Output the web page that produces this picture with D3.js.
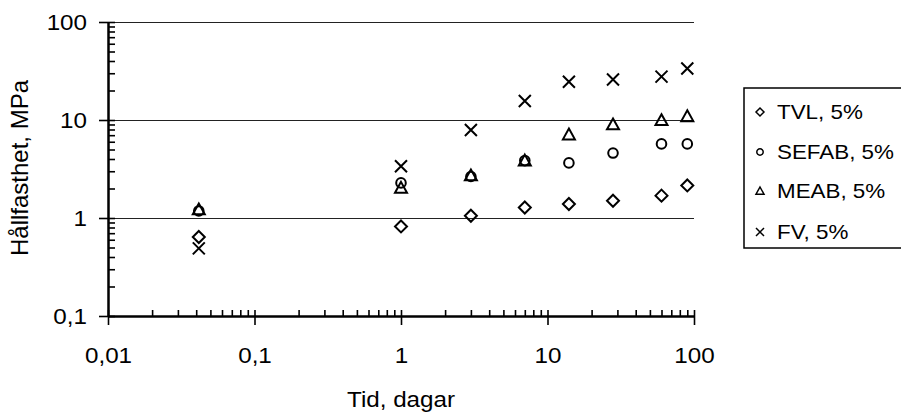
<!DOCTYPE html>
<html><head><meta charset="utf-8">
<script src="https://cdn.jsdelivr.net/npm/d3@7"></script>
<style>
body{margin:0;background:#fff}
svg{display:block}
text{font-family:Arial,"Liberation Sans",sans-serif;fill:#000}
</style></head>
<body><svg id="c" width="901" height="412"></svg>
<script>
const days = [1/24, 1, 3, 7, 14, 28, 60, 90];
const seriesNames = ["TVL, 5%", "SEFAB, 5%", "MEAB, 5%", "FV, 5%"];
const tvl   = [0.64, 0.82, 1.055, 1.28, 1.39, 1.50, 1.69, 2.15];
const sefab = [1.18, 2.28, 2.65, 3.85, 3.65, 4.6, 5.7, 5.7];
const meab  = [1.22, 2.03, 2.71, 3.85, 7.1, 9.0, 9.95, 10.9];
const fv    = [0.49, 3.37, 7.9, 15.6, 24.6, 25.9, 27.7, 33.6];
const xTicks = [0.01, 0.1, 1, 10, 100];
const xTickLabels = ["0,01", "0,1", "1", "10", "100"];
const yTicks = [0.1, 1, 10, 100];
const yTickLabels = ["0,1", "1", "10", "100"];
const xTitle = "Tid, dagar";
const yTitle = "Hållfasthet, MPa";

const svg = d3.select("#c");
const L = 108, R = 694, T = 22, B = 316;
const x = d3.scaleLog().domain([0.01, 100]).range([L, R]);
const y = d3.scaleLog().domain([0.1, 100]).range([B, T]);
const SX = 1.1; // horizontal text stretch

function minors(lo, hi) {
  const out = [];
  for (let e = Math.log10(lo); e < Math.log10(hi); e++)
    for (let m = 2; m <= 9; m++) out.push(m * Math.pow(10, e));
  return out;
}

// gridlines
svg.append("g").selectAll("line").data(yTicks.filter(v => v > 0.1)).join("line")
  .attr("x1", L).attr("x2", R)
  .attr("y1", d => Math.round(y(d)) + 0.5).attr("y2", d => Math.round(y(d)) + 0.5)
  .attr("stroke", "#222").attr("stroke-width", 1.2);

// x axis: inner ticks (all)
const gxIn = svg.append("g").attr("transform", `translate(0,${B})`)
  .call(d3.axisBottom(x).tickValues(xTicks.concat(minors(0.01, 100))).tickSize(-6).tickSizeOuter(0).tickFormat(""));
// x axis: outer major ticks + labels
const gx = svg.append("g").attr("transform", `translate(0,${B})`)
  .call(d3.axisBottom(x).tickValues(xTicks).tickSize(9).tickSizeOuter(0).tickPadding(22)
    .tickFormat((d, i) => xTickLabels[i]));

// y axis
const gyIn = svg.append("g").attr("transform", `translate(${L},0)`)
  .call(d3.axisLeft(y).tickValues(yTicks.concat(minors(0.1, 100))).tickSize(-7).tickSizeOuter(0).tickFormat(""));
const gy = svg.append("g").attr("transform", `translate(${L},0)`)
  .call(d3.axisLeft(y).tickValues(yTicks).tickSize(9).tickSizeOuter(0).tickPadding(12)
    .tickFormat((d, i) => yTickLabels[i]));

[gxIn, gx, gyIn, gy].forEach(g => {
  g.select(".domain").attr("stroke", "#000").attr("stroke-width", 2);
  g.selectAll(".tick line").attr("stroke", "#000").attr("stroke-width", 1.6);
  g.selectAll("text").attr("font-size", 22).attr("font-family", "Arial, 'Liberation Sans', sans-serif").attr("fill", "#000");
});
gx.selectAll(".tick text").attr("transform", `scale(${SX},1)`);
gy.selectAll(".tick text").each(function() {
  const t = d3.select(this);
  t.attr("x", -21 / SX).attr("transform", `scale(${SX},1)`);
});

// titles
svg.append("text").attr("transform", `translate(${(L + R) / 2},407) scale(${SX},1)`)
  .attr("text-anchor", "middle").attr("font-size", 22).text(xTitle);
svg.append("text").attr("transform", `translate(28,${(T + B) / 2 - 1}) rotate(-90)`)
  .attr("text-anchor", "middle").attr("font-size", 24).text(yTitle);

// markers
function markerPath(kind, s) {
  const p = d3.path();
  if (kind === 0) { p.moveTo(0, -s); p.lineTo(s, 0); p.lineTo(0, s); p.lineTo(-s, 0); p.closePath(); }
  else if (kind === 1) { p.arc(0, 0, s * 0.8, 0, 2 * Math.PI); }
  else if (kind === 2) { p.moveTo(0, -s); p.lineTo(s, s * 0.8); p.lineTo(-s, s * 0.8); p.closePath(); }
  else { p.moveTo(-s, -s); p.lineTo(s, s); p.moveTo(s, -s); p.lineTo(-s, s); }
  return p.toString();
}
const allSeries = [tvl, sefab, meab, fv];
const plot = svg.append("g");
allSeries.forEach((vals, k) => {
  plot.append("g").selectAll("path").data(vals).join("path")
    .attr("transform", (d, i) => `translate(${x(days[i])},${y(d)})`)
    .attr("d", markerPath(k, 6))
    .attr("fill", "none").attr("stroke", "#000").attr("stroke-width", 2);
});

// legend
const lg = svg.append("g");
lg.append("rect").attr("x", 744).attr("y", 88).attr("width", 170).attr("height", 160)
  .attr("fill", "#fff").attr("stroke", "#000").attr("stroke-width", 1.5);
const ly = [112, 152, 191, 232];
seriesNames.forEach((n, k) => {
  lg.append("path").attr("transform", `translate(760,${ly[k]})`).attr("d", markerPath(k, 4))
    .attr("fill", "none").attr("stroke", "#000").attr("stroke-width", 1.5);
  lg.append("text").attr("transform", `translate(777,${ly[k]}) scale(1.12,1)`).attr("dy", "0.35em")
    .attr("font-size", 20).text(n);
});
</script></body></html>
